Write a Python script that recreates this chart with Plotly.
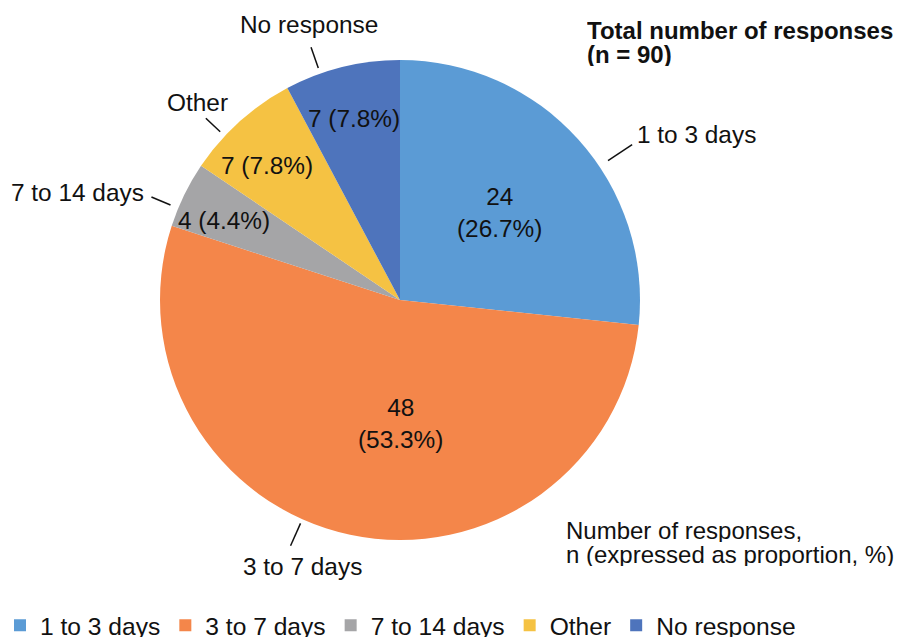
import math
import plotly.graph_objects as go

# ---- data ----
categories = ["1 to 3 days", "3 to 7 days", "7 to 14 days", "Other", "No response"]
counts = [24, 48, 4, 7, 7]
total_n = 90
title_lines = ["<b>Total number of responses</b>", "<b>(n = 90)</b>"]
note_lines = ["Number of responses,", "n (expressed as proportion, %)"]

# ---- style ----
colors = ["#5B9BD5", "#F4864A", "#A5A5A7", "#F5C243", "#4E74BC"]
FONT = "Liberation Sans, Arial, sans-serif"
FS = 24
FS_LABEL = 24.4
FS_LEGEND = 24.6
W, H = 900, 637
CX, CY, R = 400, 300, 240  # pie centre / radius in pixels

# label placement: (angle clockwise from 12 o'clock in deg, radius as fraction of R)
inside_pos = [(48.4, 0.552), (180.0, 0.515), (294.4, 0.805), (315.5, 0.788), (345.8, 0.782)]
inside_break = [True, True, False, False, False]
outside_pos = [(60.9, 1.414), (200.2, 1.181), (288.4, 1.414), (314.4, 1.179), (341.7, 1.207)]
leader = [(56.2, 1.043, 1.164), (204.0, 1.019, 1.121), (292.5, 1.035, 1.121),
          (313.1, 1.026, 1.108), (340.6, 1.025, 1.116)]


def px(angle, rf):
    a = math.radians(angle)
    return CX + rf * R * math.sin(a), CY - rf * R * math.cos(a)


def paper(x, y):
    return x / W, 1 - y / H


fig = go.Figure(go.Pie(
    labels=categories,
    values=counts,
    sort=False,
    direction="clockwise",
    rotation=0,
    marker=dict(colors=colors, line=dict(width=0)),
    textinfo="none",
    hoverinfo="label+value+percent",
    domain=dict(x=[(CX - R) / W, (CX + R) / W], y=[1 - (CY + R) / H, 1 - (CY - R) / H]),
))

annotations = []
shapes = []
for i, (cat, c) in enumerate(zip(categories, counts)):
    pct = c / total_n * 100
    sep = "<br>" if inside_break[i] else " "
    txt = f"{c}{sep}({pct:.1f}%)"
    x, y = px(*inside_pos[i])
    xp, yp = paper(x, y)
    annotations.append(dict(x=xp, y=yp, xref="paper", yref="paper", text=txt,
                            showarrow=False, xanchor="center", yanchor="middle",
                            font=dict(family=FONT, size=FS_LABEL, color="#111111")))
    x, y = px(*outside_pos[i])
    xp, yp = paper(x, y)
    annotations.append(dict(x=xp, y=yp, xref="paper", yref="paper", text=cat,
                            showarrow=False, xanchor="center", yanchor="middle",
                            font=dict(family=FONT, size=FS_LABEL, color="#111111")))
    ang, r0, r1 = leader[i]
    x0, y0 = px(ang, r0)
    x1, y1 = px(ang, r1)
    a0, b0 = paper(x0, y0)
    a1, b1 = paper(x1, y1)
    shapes.append(dict(type="line", xref="paper", yref="paper", x0=a0, y0=b0, x1=a1, y1=b1,
                       line=dict(color="#111111", width=1.5)))

for t, yy in zip(title_lines, [31, 54]):
    annotations.append(dict(x=585 / W, y=1 - yy / H, xref="paper", yref="paper", text=t,
                            showarrow=False, xanchor="left", yanchor="middle", align="left",
                            height=23, valign="middle",
                            font=dict(family=FONT, size=FS, color="#111111")))
for t, yy in zip(note_lines, [530, 554]):
    annotations.append(dict(x=564 / W, y=1 - yy / H, xref="paper", yref="paper", text=t,
                            showarrow=False, xanchor="left", yanchor="middle", align="left",
                            height=23, valign="middle",
                            font=dict(family=FONT, size=FS, color="#111111")))

fig.update_layout(
    width=W, height=H,
    margin=dict(l=0, r=0, t=0, b=0, autoexpand=False),
    paper_bgcolor="white",
    plot_bgcolor="white",
    font=dict(family=FONT, size=FS, color="#111111"),
    showlegend=True,
    legend=dict(orientation="h", x=0, xanchor="left", y=-0.017, yanchor="bottom",
                font=dict(family=FONT, size=FS_LEGEND, color="#111111"),
                traceorder="normal", bgcolor="rgba(0,0,0,0)"),
    annotations=annotations,
    shapes=shapes,
)

fig.write_html("out.html")
